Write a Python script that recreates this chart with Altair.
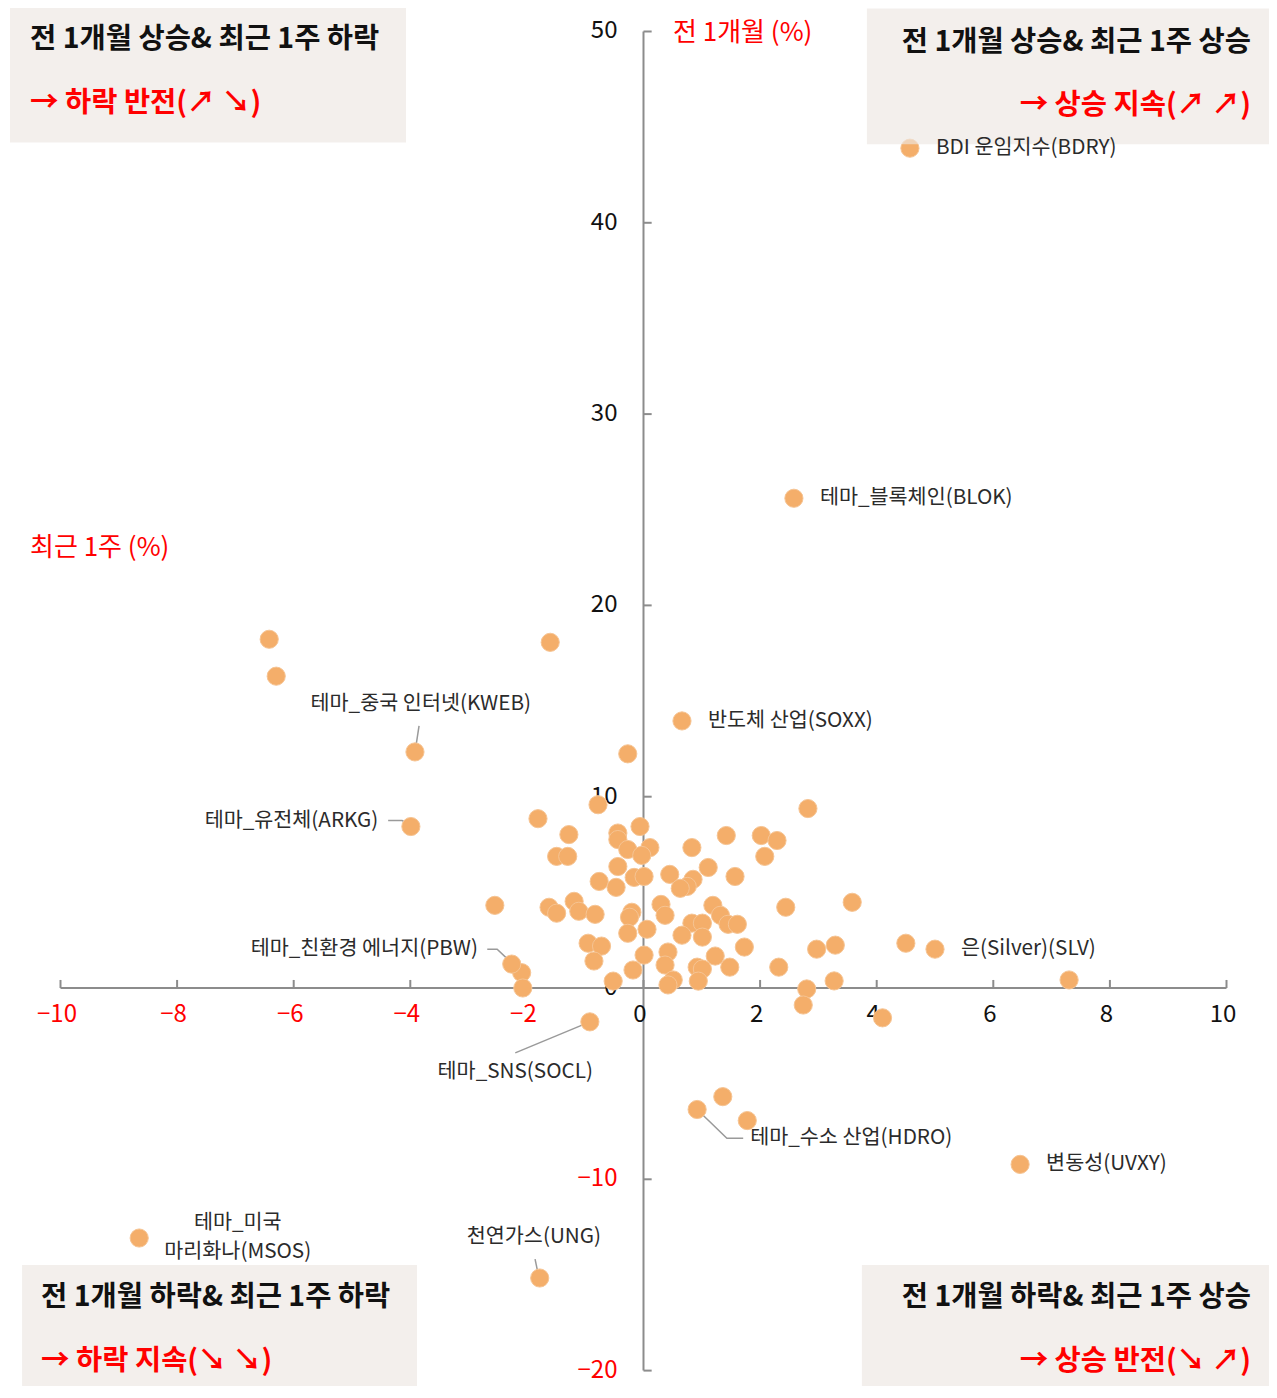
import altair as alt
import pandas as pd

FONT = "Noto Sans CJK KR"
RED = "#FF0000"
DOT = "#F4AE6A"

# ---------------- data ----------------
# labelled ETFs: x = 최근 1주 (%), y = 전 1개월 (%)
lab_names = ["BDI 운임지수(BDRY)", "테마_블록체인(BLOK)", "반도체 산업(SOXX)", "테마_중국 인터넷(KWEB)",
             "테마_유전체(ARKG)", "테마_친환경 에너지(PBW)", "테마_SNS(SOCL)", "테마_수소 산업(HDRO)",
             "변동성(UVXY)", "은(Silver)(SLV)", "테마_미국 마리화나(MSOS)", "천연가스(UNG)"]
lab_week = [4.57, 2.58, 0.66, -3.92, -3.99, -2.09, -0.92, 0.92, 6.46, 5.00, -8.65, -1.78]
lab_month = [43.9, 25.6, 13.96, 12.34, 8.44, 0.80, -1.77, -6.35, -9.22, 2.03, -13.07, -15.16]

# unlabelled ETFs
oth_week = [-6.42, -6.30, -1.60, -0.27, 2.82, 1.36, 1.78, 4.50, 7.30, 4.10,
            -1.81, -0.78, -1.28, -1.49, -1.30, -0.44, -0.44, -0.06, -0.27, 0.11,
            -0.03, -0.44, -0.76, -0.47, -0.16, 0.01, -2.55, -1.62, -1.49, -1.19,
            -1.11, -0.83, -0.20, -0.24, 0.06, -0.27, -0.95, -0.72, -0.85, 0.01,
            -0.18, -2.26, -2.07, -0.52, 0.42, 0.37, 0.51, 0.42, 1.42, 2.02,
            2.29, 2.08, 0.83, 1.11, 1.57, 0.45, 0.85, 0.75, 0.63, 0.30,
            0.37, 1.19, 1.32, 1.45, 1.61, 0.83, 1.01, 1.01, 0.66, 2.44,
            3.58, 1.73, 1.23, 0.92, 1.01, 1.48, 0.94, 2.32, 2.97, 3.29,
            2.80, 3.27, 2.74]
oth_month = [18.23, 16.30, 18.07, 12.24, 9.38, -5.68, -6.93, 2.34, 0.42, -1.56,
             8.85, 9.58, 8.02, 6.88, 6.88, 8.10, 7.76, 8.44, 7.24, 7.34,
             6.93, 6.35, 5.57, 5.26, 5.78, 5.83, 4.32, 4.22, 3.91, 4.53,
             4.01, 3.85, 3.96, 3.70, 3.07, 2.86, 2.34, 2.19, 1.41, 1.72,
             0.94, 1.25, 0.00, 0.36, 1.88, 1.20, 0.42, 0.16, 7.97, 7.97,
             7.71, 6.88, 7.34, 6.30, 5.83, 5.94, 5.68, 5.31, 5.21, 4.37,
             3.80, 4.32, 3.80, 3.33, 3.33, 3.39, 3.39, 2.66, 2.76, 4.22,
             4.48, 2.14, 1.67, 1.09, 0.99, 1.09, 0.36, 1.09, 2.03, 2.24,
             -0.05, 0.37, -0.89]

x_ticks = [-10, -8, -6, -4, -2, 0, 2, 4, 6, 8, 10]
x_tick_labels = ["−10", "−8", "−6", "−4", "−2", "0", "2", "4", "6", "8", "10"]
y_ticks = [50, 40, 30, 20, 10, 0, -10, -20]
y_tick_labels = ["50", "40", "30", "20", "10", "0", "−10", "−20"]

quad_title = ["전 1개월 상승& 최근 1주 하락", "전 1개월 상승& 최근 1주 상승",
              "전 1개월 하락& 최근 1주 하락", "전 1개월 하락& 최근 1주 상승"]
quad_sub = ["→ 하락 반전(↗ ↘)", "→ 상승 지속(↗ ↗)", "→ 하락 지속(↘ ↘)", "→ 상승 반전(↘ ↗)"]

# ---------------- scales (plot area == chart area) ----------------
W, H = 1261, 1378
XS = alt.Scale(domain=[-10.9005, 10.7290], nice=False, zero=False)
YS = alt.Scale(domain=[-20.805, 51.228], nice=False, zero=False)


def X(f="x"):
    return alt.X(f"{f}:Q", scale=XS, axis=None)


def Y(f="y"):
    return alt.Y(f"{f}:Q", scale=YS, axis=None)


# ---------------- axes ----------------
axes_df = pd.DataFrame([
    {"x": 0, "x2": 0, "y": -20, "y2": 50},
    {"x": -10, "x2": 10, "y": 0, "y2": 0},
])
axes = alt.Chart(axes_df).mark_rule(color="#8C8C8C", strokeWidth=2).encode(
    x=X(), x2="x2:Q", y=Y(), y2="y2:Q")

ytick_df = pd.DataFrame({"x": 0, "x2": 0.14, "y": [t for t in y_ticks if t != 0]})
yticks = alt.Chart(ytick_df).mark_rule(color="#8C8C8C", strokeWidth=2).encode(
    x=X(), x2="x2:Q", y=Y())
xtick_df = pd.DataFrame({"x": x_ticks, "y": 0, "y2": 0.42})
xticks = alt.Chart(xtick_df).mark_rule(color="#8C8C8C", strokeWidth=2).encode(
    x=X(), y=Y(), y2="y2:Q")

xl_df = pd.DataFrame({"x": x_ticks, "y": 0, "t": x_tick_labels,
                      "c": [RED if v < 0 else "#111111" for v in x_ticks]})
xlabels = alt.Chart(xl_df).mark_text(font=FONT, fontSize=24, align="center", baseline="middle",
                                     dx=-3.5, dy=27).encode(
    x=X(), y=Y(), text="t:N", color=alt.Color("c:N", scale=None))
yl_df = pd.DataFrame({"x": 0, "y": y_ticks, "t": y_tick_labels,
                      "c": [RED if v < 0 else "#111111" for v in y_ticks]})
ylabels = alt.Chart(yl_df).mark_text(font=FONT, fontSize=24, align="right", baseline="middle",
                                     dx=-26, dy=0).encode(
    x=X(), y=Y(), text="t:N", color=alt.Color("c:N", scale=None))

title_df = pd.DataFrame([
    {"x": 0.506, "y": 49.9, "t": "전 1개월 (%)"},
    {"x": -10.523, "y": 23.0, "t": "최근 1주 (%)"},
])
axis_titles = alt.Chart(title_df).mark_text(font=FONT, fontSize=26, align="left", baseline="middle",
                                            color=RED).encode(x=X(), y=Y(), text="t:N")

# ---------------- points ----------------
pts_df = pd.concat([
    pd.DataFrame({"x": lab_week, "y": lab_month}),
    pd.DataFrame({"x": oth_week, "y": oth_month}),
], ignore_index=True)
points = alt.Chart(pts_df).mark_circle(size=330, color=DOT, opacity=1, stroke="#F6C493",
                                       strokeWidth=1).encode(x=X(), y=Y())

# ---------------- labels ----------------
right_idx = [0, 1, 2, 9, 8]
rl_df = pd.DataFrame({"x": [lab_week[i] for i in right_idx], "y": [lab_month[i] for i in right_idx],
                      "t": [lab_names[i] for i in right_idx]})
right_labels = alt.Chart(rl_df).mark_text(font=FONT, fontSize=20.7, align="left", baseline="middle",
                                          dx=26, color="#2B2B2B").encode(x=X(), y=Y(), text="t:N")

ann_df = pd.DataFrame([
    {"x": -3.82, "y": 14.84, "t": "테마_중국 인터넷(KWEB)", "a": "center"},
    {"x": -4.55, "y": 8.75, "t": "테마_유전체(ARKG)", "a": "right"},
    {"x": -2.84, "y": 2.03, "t": "테마_친환경 에너지(PBW)", "a": "right"},
    {"x": -2.20, "y": -4.375, "t": "테마_SNS(SOCL)", "a": "center"},
    {"x": 1.83, "y": -7.86, "t": "테마_수소 산업(HDRO)", "a": "left"},
    {"x": -1.88, "y": -13.02, "t": "천연가스(UNG)", "a": "center"},
    {"x": -6.96, "y": -12.29, "t": "테마_미국", "a": "center"},
    {"x": -6.96, "y": -13.80, "t": "마리화나(MSOS)", "a": "center"},
])
ann_layers = []
for a in ["left", "center", "right"]:
    sub = ann_df[ann_df["a"] == a]
    ann_layers.append(alt.Chart(sub).mark_text(font=FONT, fontSize=20.7, align=a, baseline="middle",
                                               color="#2B2B2B").encode(x=X(), y=Y(), text="t:N"))

lead_rows = []
leaders = {
    "KWEB": [(-3.85, 13.70), (-3.90, 12.71)],
    "ARKG": [(-4.38, 8.75), (-4.14, 8.75), (-3.99, 8.49)],
    "PBW": [(-2.68, 2.03), (-2.51, 2.03), (-2.08, 0.78)],
    "SOCL": [(-2.20, -3.39), (-0.92, -1.77)],
    "HDRO": [(0.92, -6.35), (1.43, -7.86), (1.71, -7.86)],
    "UNG": [(-1.86, -14.17), (-1.81, -14.90)],
}
for g, pts in leaders.items():
    for o, (lx, ly) in enumerate(pts):
        lead_rows.append({"g": g, "o": o, "x": lx, "y": ly})
lead_df = pd.DataFrame(lead_rows)
lead_lines = alt.Chart(lead_df).mark_line(color="#9A9A9A", strokeWidth=1.5).encode(
    x=X(), y=Y(), detail="g:N", order="o:Q")

# ---------------- quadrant boxes ----------------
box_df = pd.DataFrame([
    {"x": -10.866, "x2": -4.074, "y": 51.3, "y2": 44.2},
    {"x": 3.832, "x2": 10.78, "y": 51.2, "y2": 44.1},
    {"x": -10.66, "x2": -3.885, "y": -14.48, "y2": -21.5},
    {"x": 3.746, "x2": 10.78, "y": -14.48, "y2": -21.5},
])
boxes = alt.Chart(box_df).mark_rect(color="#EDE7E2", opacity=0.65).encode(
    x=X(), x2="x2:Q", y=Y(), y2="y2:Q")

qt_df = pd.DataFrame([
    {"x": -10.523, "y": 49.6, "y2": 46.25, "a": "left", "i": 0},
    {"x": 10.42, "y": 49.45, "y2": 46.15, "a": "right", "i": 1},
    {"x": -10.334, "y": -16.15, "y2": -19.5, "a": "left", "i": 2},
    {"x": 10.42, "y": -16.15, "y2": -19.5, "a": "right", "i": 3},
])
qt_df["t"] = [quad_title[i] for i in qt_df["i"]]
qt_df["s"] = [quad_sub[i] for i in qt_df["i"]]
box_texts = []
for a in ["left", "right"]:
    sub = qt_df[qt_df["a"] == a]
    box_texts.append(alt.Chart(sub).mark_text(font=FONT, fontSize=28.5, fontWeight="bold", align=a,
                                              baseline="middle", color="#111111").encode(
        x=X(), y=Y(), text="t:N"))
    box_texts.append(alt.Chart(sub).mark_text(font=FONT, fontSize=28.5, fontWeight="bold", align=a,
                                              baseline="middle", color=RED).encode(
        x=X(), y=Y("y2"), text="s:N"))

chart = alt.layer(
    axes, yticks, xticks, xlabels, ylabels, axis_titles,
    lead_lines, points, boxes, *box_texts, right_labels, *ann_layers,
).properties(
    width=W, height=H, padding=0, autosize=alt.AutoSizeParams(type="none"),
).configure_view(stroke=None)

chart.save("out.html", embed_options={"renderer": "svg", "actions": False})
